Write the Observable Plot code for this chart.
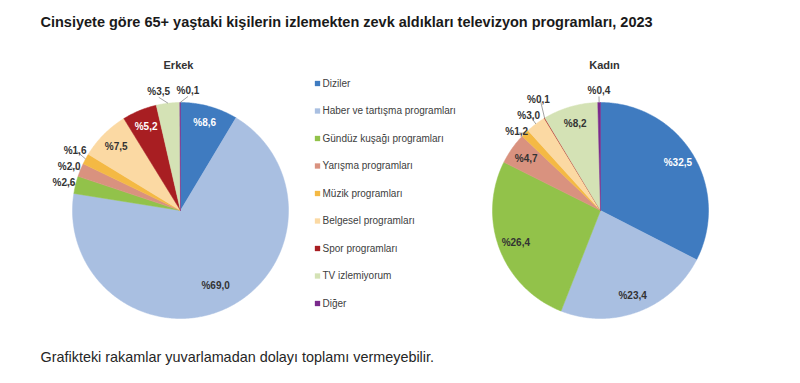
<!DOCTYPE html>
<html><head><meta charset="utf-8">
<script src="https://cdn.jsdelivr.net/npm/d3@7"></script>
<script src="https://cdn.jsdelivr.net/npm/@observablehq/plot@0.6"></script>
<style>body{margin:0;background:#fff;}</style>
</head><body><div id="chart"></div>
<script>
// ---- data ----
const categories = ["Diziler", "Haber ve tartışma programları", "Gündüz kuşağı programları", "Yarışma programları", "Müzik programları", "Belgesel programları", "Spor programları", "TV izlemiyorum", "Diğer"];
const groups = ["Erkek", "Kadın"];
const erkekValues = [8.6, 69.0, 2.6, 2.0, 1.6, 7.5, 5.2, 3.5, 0.1];
const kadinValues = [32.5, 23.4, 26.4, 4.7, 1.2, 3.0, 0.1, 8.2, 0.4];
const titleText = "Cinsiyete göre 65+ yaştaki kişilerin izlemekten zevk aldıkları televizyon programları, 2023";
const captionText = "Grafikteki rakamlar yuvarlamadan dolayı toplamı vermeyebilir.";

// ---- style / layout ----
const colors = ["#3f7bc0", "#a9bfe1", "#92c24a", "#d9927f", "#f4b944", "#fbd9a3", "#a81e22", "#d4e2b5", "#7a2a8c"];
const W = 800, H = 383, R = 108;
const centers = [[180, 210], [600, 210]];
const pieTitleX = [178, 604];
const font = "'Liberation Sans', Arial, sans-serif";
const textDark = "#333333";

const fmt = v => "%" + v.toFixed(1).replace(".", ",");
const slices = [], inLabels = [], outLabels = [], leaders = [];

groups.forEach((g, gi) => {
  const vals = gi === 0 ? erkekValues : kadinValues;
  const [cx, cy] = centers[gi];
  const arcs = d3.pie().sort(null)(vals);
  const outs = [];
  arcs.forEach((a, i) => {
    const span = a.endAngle - a.startAngle;
    const n = Math.max(2, Math.ceil(span / 0.01));
    const id = g + "-" + i;
    slices.push({id, cat: categories[i], x: cx, y: cy});
    for (let k = 0; k <= n; k++) {
      const t = a.startAngle + span * k / n;
      slices.push({id, cat: categories[i], x: cx + R * Math.sin(t), y: cy - R * Math.cos(t)});
    }
    slices.push({id, cat: categories[i], x: cx, y: cy});
    const mid = (a.startAngle + a.endAngle) / 2;
    const s = Math.sin(mid), c = -Math.cos(mid);
    const text = fmt(vals[i]);
    if (vals[i] >= 4) {
      const k = vals[i] > 50 ? 0.77 : 0.84;
      const white = d3.lab(colors[i]).l < 55;
      inLabels.push({x: cx + k * R * s, y: cy + k * R * c, text, white});
    } else {
      const rr = R + 12;
      const anchor = s < -0.2 ? "end" : s > 0.2 ? "start" : "middle";
      outs.push({x: cx + rr * s, y: cy + rr * c, text, anchor,
                 ax: cx + R * s, ay: cy + R * c});
    }
  });
  // simple collision relaxation
  const box = L => {
    const w = L.text.length * 5.7;
    const x0 = L.anchor === "end" ? L.x - w : L.anchor === "start" ? L.x : L.x - w / 2;
    return [x0 - 3, L.y - 8, x0 + w + 3, L.y + 8];
  };
  for (let it = 0; it < 80; it++) {
    for (let p = 0; p < outs.length; p++) for (let q = p + 1; q < outs.length; q++) {
      const A = box(outs[p]), B = box(outs[q]);
      const ox = Math.min(A[2], B[2]) - Math.max(A[0], B[0]);
      const oy = Math.min(A[3], B[3]) - Math.max(A[1], B[1]);
      if (ox > 0 && oy > 0) {
        const horiz = outs[p].anchor === "middle" && outs[q].anchor === "middle";
        if (horiz) {
          const d = ox / 2 + 0.2, sgn = outs[p].x <= outs[q].x ? 1 : -1;
          outs[p].x -= sgn * d; outs[q].x += sgn * d;
        } else {
          const d = oy / 2 + 0.2, sgn = outs[p].y <= outs[q].y ? 1 : -1;
          outs[p].y -= sgn * d; outs[q].y += sgn * d;
        }
      }
    }
  }
  outs.forEach(L => {
    outLabels.push(L);
    const ex = L.anchor === "end" ? L.x + 2 : L.anchor === "start" ? L.x - 2 : L.x;
    const ey = L.anchor === "middle" ? L.y + 6 : L.y + 1;
    leaders.push({x1: L.ax, y1: L.ay, x2: ex, y2: ey});
  });
});

const legendY = (d, i) => 83 + i * 27.5;

const chart = Plot.plot({
  width: W, height: H, margin: 0,
  x: {type: "linear", domain: [0, W], range: [0, W], axis: null},
  y: {type: "linear", domain: [0, H], range: [0, H], axis: null},
  color: {domain: categories, range: colors},
  style: {fontFamily: font, background: "#fff", overflow: "visible"},
  marks: [
    Plot.line(slices, {x: "x", y: "y", z: "id", fill: "cat", stroke: "cat", strokeWidth: 0.5, curve: "linear"}),
    Plot.link(leaders, {x1: "x1", y1: "y1", x2: "x2", y2: "y2", stroke: "#8a8a8a", strokeWidth: 0.8}),
    Plot.text(inLabels.filter(d => d.white), {x: "x", y: "y", text: "text", fill: "white", fontSize: 10, fontWeight: "bold"}),
    Plot.text(inLabels.filter(d => !d.white), {x: "x", y: "y", text: "text", fill: textDark, fontSize: 10, fontWeight: "bold"}),
    Plot.text(outLabels, {x: "x", y: "y", text: "text", textAnchor: d => d.anchor, fill: textDark, fontSize: 10, fontWeight: "bold"}),
    Plot.text(groups, {x: (d, i) => pieTitleX[i], y: 65, text: d => d, fill: textDark, fontSize: 11, fontWeight: "bold"}),
    Plot.dot(categories, {x: 317, y: legendY, symbol: "square", r: 3, fill: d => d}),
    Plot.text(categories, {x: 322, y: legendY, text: d => d, textAnchor: "start", fill: "#404040", fontSize: 10}),
    Plot.text([titleText], {x: 40, y: 22, text: d => d, textAnchor: "start", fill: "#1a1a1a", fontSize: 14.5, fontWeight: "bold"}),
    Plot.text([captionText], {x: 40, y: 357, text: d => d, textAnchor: "start", fill: "#262626", fontSize: 14.4})
  ]
});
document.getElementById("chart").append(chart);
</script>
</body></html>
